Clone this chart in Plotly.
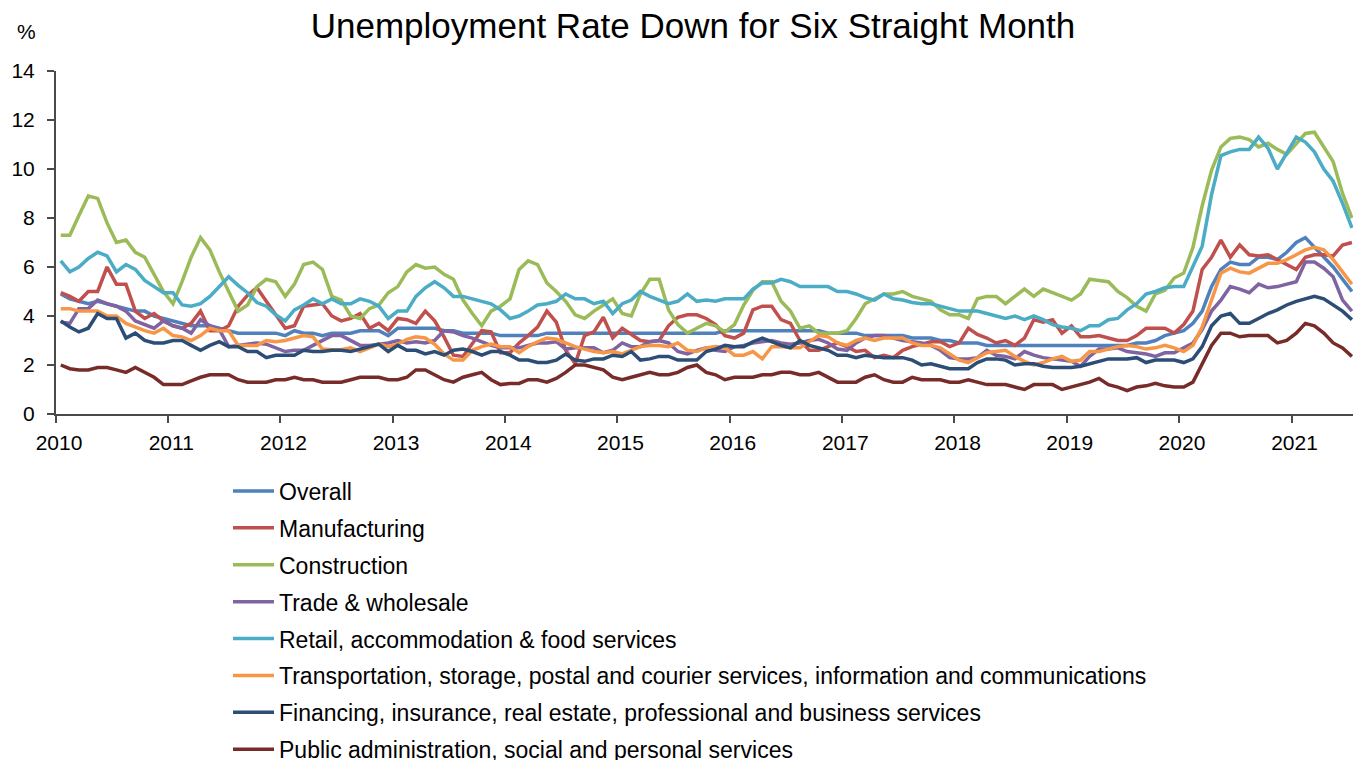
import pandas as pd
import plotly.graph_objects as go

# Monthly observations, Jan 2010 - Jul 2021 (%)
months = pd.date_range("2010-01-01", "2021-07-01", freq="MS")
tick_years = list(range(2010, 2022))

overall = [
    4.9, 4.7, 4.6, 4.5, 4.6, 4.5, 4.4, 4.3, 4.2, 4.2, 4.0, 3.9,
    3.8, 3.7, 3.6, 3.6, 3.6, 3.5, 3.4, 3.3, 3.3, 3.3, 3.3, 3.3,
    3.2, 3.4, 3.3, 3.3, 3.2, 3.3, 3.3, 3.3, 3.4, 3.4, 3.4, 3.2,
    3.5, 3.5, 3.5, 3.5, 3.5, 3.4, 3.4, 3.3, 3.3, 3.3, 3.3, 3.2,
    3.2, 3.2, 3.2, 3.2, 3.3, 3.3, 3.3, 3.3, 3.3, 3.3, 3.3, 3.3,
    3.3, 3.3, 3.3, 3.3, 3.3, 3.3, 3.3, 3.3, 3.3, 3.3, 3.3, 3.4,
    3.4, 3.4, 3.4, 3.4, 3.4, 3.4, 3.4, 3.4, 3.4, 3.4, 3.3, 3.3,
    3.3, 3.3, 3.2, 3.2, 3.2, 3.2, 3.2, 3.1, 3.1, 3.1, 3.0, 3.0,
    2.9, 2.9, 2.9, 2.8, 2.8, 2.8, 2.8, 2.8, 2.8, 2.8, 2.8, 2.8,
    2.8, 2.8, 2.8, 2.8, 2.8, 2.8, 2.8, 2.9, 2.9, 3.0, 3.2, 3.3,
    3.4, 3.7, 4.2, 5.2, 5.9, 6.2, 6.1, 6.1, 6.4, 6.4, 6.3, 6.6,
    7.0, 7.2, 6.8, 6.4, 6.0, 5.5, 5.0,
]

manufacturing = [
    4.95, 4.8, 4.6, 5.0, 5.0, 6.0, 5.3, 5.3, 4.2, 3.9, 4.1, 3.8,
    3.6, 3.5, 3.7, 4.2, 3.4, 3.4, 3.6, 4.4, 4.85, 5.15, 4.6, 4.05,
    3.5, 3.6, 4.4, 4.45, 4.5, 4.0, 3.8, 3.9, 4.1, 3.5, 3.7, 3.4,
    3.9, 3.85, 3.7, 4.2, 3.8, 3.15, 2.4, 2.35, 2.9, 3.4, 3.35, 2.5,
    2.5, 2.9, 3.2, 3.55, 4.2, 3.75, 2.6, 2.05, 3.2, 3.35, 3.95, 3.1,
    3.5, 3.25, 3.0, 2.95, 3.0, 3.6, 3.95, 4.05, 4.05, 3.9, 3.65, 3.2,
    3.1, 3.3, 4.25, 4.4, 4.4, 3.85, 3.7, 3.0, 2.6, 2.6, 2.75, 2.9,
    2.75, 2.55, 2.6, 2.3, 2.4, 2.3, 2.6, 2.75, 2.85, 2.95, 2.95, 2.75,
    2.9, 3.5, 3.25, 3.1, 2.9, 3.0, 2.8, 3.1, 3.85, 3.75, 3.85, 3.3,
    3.6, 3.15, 3.15, 3.2, 3.1, 3.0, 3.0, 3.2, 3.5, 3.5, 3.5, 3.3,
    3.65, 4.2, 5.9, 6.4, 7.1, 6.4, 6.9, 6.5, 6.45, 6.5, 6.3, 6.1,
    5.9, 6.4, 6.5, 6.5, 6.45, 6.9, 7.0,
]

construction = [
    7.3, 7.3, 8.1, 8.9, 8.8, 7.8, 7.0, 7.1, 6.6, 6.4, 5.7, 5.0,
    4.5, 5.4, 6.4, 7.2, 6.7, 5.8, 5.0, 4.2, 4.45, 5.2, 5.5, 5.4,
    4.8, 5.3, 6.1, 6.2, 5.9, 4.8, 4.65, 4.0, 3.9, 4.3, 4.45, 4.95,
    5.2, 5.8, 6.1, 5.95, 6.0, 5.7, 5.5, 4.65, 4.1, 3.6, 4.2, 4.4,
    4.7, 5.9, 6.25, 6.1, 5.35, 5.0, 4.6, 4.05, 3.9, 4.2, 4.45, 4.7,
    4.1, 4.0, 4.9, 5.5, 5.5, 4.25, 3.65, 3.3, 3.5, 3.7, 3.6, 3.35,
    3.65, 4.45, 5.05, 5.4, 5.4, 4.6, 4.2, 3.5, 3.6, 3.3, 3.3, 3.3,
    3.4, 3.9, 4.5, 4.7, 4.9, 4.9, 5.0, 4.8, 4.7, 4.6, 4.25, 4.05,
    4.05, 3.9, 4.7, 4.8, 4.8, 4.5, 4.8, 5.1, 4.8, 5.1, 4.95, 4.8,
    4.65, 4.9, 5.5, 5.45, 5.4, 5.0, 4.75, 4.4, 4.2, 4.9, 5.05, 5.55,
    5.75, 6.8, 8.5, 9.95, 10.9, 11.25, 11.3, 11.2, 10.9, 11.05, 10.8, 10.6,
    11.05, 11.45, 11.5, 10.9, 10.3, 9.0, 8.0,
]

trade_wholesale = [
    3.75, 3.7, 4.3, 4.3, 4.65, 4.5, 4.4, 4.2, 3.8, 3.65, 3.5, 3.8,
    3.6, 3.5, 3.3, 3.85, 3.6, 3.45, 2.75, 2.8, 2.85, 2.9, 2.85, 2.7,
    2.55, 2.6, 2.6, 2.8, 3.0, 3.2, 3.2, 3.0, 2.8, 2.8, 2.85, 2.9,
    3.0, 2.9, 2.95, 2.9, 3.0, 3.4, 3.35, 3.2, 3.1, 2.95, 2.8, 2.7,
    2.7, 2.7, 2.8, 2.9, 2.9, 2.95, 2.65, 2.7, 2.7, 2.7, 2.5, 2.6,
    2.9, 2.75, 2.75, 2.95, 3.0, 2.9, 2.55, 2.45, 2.6, 2.7, 2.6, 2.55,
    2.75, 2.8, 2.9, 2.95, 3.0, 2.9, 2.85, 2.9, 3.0, 3.05, 2.9, 2.65,
    2.6, 2.9, 3.1, 3.2, 3.2, 3.1, 3.0, 2.95, 2.9, 2.8, 2.6, 2.3,
    2.25, 2.25, 2.3, 2.6, 2.4, 2.35, 2.25, 2.55, 2.4, 2.3, 2.25, 2.2,
    2.15, 1.95, 2.35, 2.65, 2.65, 2.7, 2.55, 2.5, 2.45, 2.35, 2.5, 2.5,
    2.7, 2.9, 3.45, 4.2, 4.65, 5.2, 5.1, 4.95, 5.3, 5.15, 5.2, 5.3,
    5.4, 6.2, 6.2, 5.95, 5.6, 4.65, 4.2,
]

retail_food = [
    6.25, 5.8, 6.0, 6.35, 6.6, 6.45, 5.8, 6.1, 5.9, 5.45, 5.2, 4.95,
    4.95, 4.45, 4.4, 4.5, 4.8, 5.2, 5.6, 5.25, 4.95, 4.55, 4.4, 4.05,
    3.8, 4.25, 4.45, 4.7, 4.5, 4.7, 4.5, 4.5, 4.7, 4.6, 4.4, 3.9,
    4.2, 4.2, 4.8, 5.15, 5.4, 5.15, 4.8, 4.8, 4.7, 4.6, 4.5, 4.25,
    3.9, 4.0, 4.2, 4.45, 4.5, 4.6, 4.9, 4.7, 4.7, 4.5, 4.6, 4.1,
    4.5, 4.65, 5.0, 4.8, 4.65, 4.5, 4.6, 4.9, 4.6, 4.65, 4.6, 4.7,
    4.7, 4.7, 5.1, 5.35, 5.35, 5.5, 5.4, 5.2, 5.2, 5.2, 5.2, 5.0,
    5.0, 4.9, 4.75, 4.65, 4.9, 4.7, 4.65, 4.55, 4.5, 4.5, 4.4, 4.3,
    4.2, 4.2, 4.2, 4.1, 4.0, 3.9, 4.0, 3.85, 4.0, 3.85, 3.65, 3.55,
    3.5, 3.4, 3.6, 3.6, 3.85, 3.9, 4.25, 4.5, 4.9, 5.0, 5.15, 5.2,
    5.2, 6.0, 6.85, 8.95, 10.55, 10.7, 10.8, 10.8, 11.3, 10.85, 10.0, 10.65,
    11.3, 11.1, 10.7, 10.0, 9.5, 8.6, 7.6,
]

transport_comm = [
    4.3, 4.3, 4.2, 4.2, 4.2, 4.0, 4.0, 3.7, 3.55, 3.4, 3.3, 3.5,
    3.2, 3.15, 3.0, 3.2, 3.5, 3.4, 3.4, 2.8, 2.8, 2.8, 3.0, 2.95,
    3.0, 3.1, 3.2, 3.15, 2.65, 2.62, 2.62, 2.7, 2.55, 2.7, 2.85, 2.75,
    2.85, 3.05, 3.15, 3.1, 2.85, 2.45, 2.2, 2.2, 2.6, 2.75, 2.85, 2.75,
    2.75, 2.5, 2.75, 2.95, 3.1, 3.05, 2.9, 2.75, 2.65, 2.55, 2.5, 2.55,
    2.45, 2.6, 2.75, 2.8, 2.8, 2.75, 2.9, 2.6, 2.55, 2.7, 2.75, 2.7,
    2.4, 2.4, 2.55, 2.25, 2.75, 2.75, 2.7, 2.7, 2.95, 3.2, 3.15, 2.9,
    2.8, 3.0, 3.1, 3.0, 3.1, 3.1, 3.1, 2.9, 2.8, 2.8, 2.7, 2.45,
    2.2, 2.1, 2.3, 2.5, 2.55, 2.6, 2.35, 2.15, 2.0, 2.1, 2.25, 2.35,
    2.15, 2.2, 2.55, 2.55, 2.65, 2.75, 2.8, 2.75, 2.65, 2.7, 2.8, 2.7,
    2.55, 2.8, 3.55, 4.65, 5.75, 5.95, 5.8, 5.75, 5.95, 6.15, 6.15, 6.3,
    6.5, 6.7, 6.8, 6.7, 6.3, 5.8, 5.3,
]

finance_business = [
    3.8, 3.55, 3.35, 3.5, 4.1, 3.9, 3.9, 3.1, 3.3, 3.0, 2.9, 2.9,
    3.0, 3.0, 2.8, 2.6, 2.8, 2.95, 2.75, 2.75, 2.55, 2.55, 2.3, 2.4,
    2.4, 2.4, 2.6, 2.55, 2.55, 2.6, 2.6, 2.55, 2.65, 2.75, 2.85, 2.55,
    2.8, 2.6, 2.6, 2.45, 2.55, 2.4, 2.6, 2.65, 2.55, 2.4, 2.55, 2.55,
    2.4, 2.2, 2.2, 2.1, 2.1, 2.2, 2.45, 2.2, 2.15, 2.25, 2.25, 2.4,
    2.35, 2.55, 2.2, 2.25, 2.35, 2.35, 2.2, 2.2, 2.2, 2.55, 2.65, 2.8,
    2.75, 2.75, 2.95, 3.1, 2.95, 2.8, 2.7, 3.0, 2.8, 2.7, 2.6, 2.4,
    2.4, 2.3, 2.4, 2.35, 2.3, 2.3, 2.3, 2.2, 2.0, 2.05, 1.95, 1.85,
    1.85, 1.85, 2.1, 2.25, 2.25, 2.2, 2.0, 2.05, 2.05, 1.95, 1.9, 1.9,
    1.9, 1.95, 2.05, 2.15, 2.25, 2.25, 2.25, 2.3, 2.1, 2.2, 2.2, 2.2,
    2.1, 2.25, 2.75, 3.6, 4.0, 4.1, 3.7, 3.7, 3.9, 4.1, 4.25, 4.45,
    4.6, 4.7, 4.8, 4.7, 4.45, 4.2, 3.85,
]

public_social = [
    2.0, 1.85, 1.8, 1.8, 1.9, 1.9, 1.8, 1.7, 1.9, 1.7, 1.5, 1.2,
    1.2, 1.2, 1.35, 1.5, 1.6, 1.6, 1.6, 1.4, 1.3, 1.3, 1.3, 1.4,
    1.4, 1.5, 1.4, 1.4, 1.3, 1.3, 1.3, 1.4, 1.5, 1.5, 1.5, 1.4,
    1.4, 1.5, 1.8, 1.8, 1.6, 1.4, 1.3, 1.5, 1.6, 1.7, 1.4, 1.2,
    1.25, 1.25, 1.4, 1.4, 1.3, 1.45, 1.7, 2.0, 2.0, 1.9, 1.8, 1.5,
    1.4, 1.5, 1.6, 1.7, 1.6, 1.6, 1.7, 1.9, 2.0, 1.7, 1.6, 1.4,
    1.5, 1.5, 1.5, 1.6, 1.6, 1.7, 1.7, 1.6, 1.6, 1.7, 1.5, 1.3,
    1.3, 1.3, 1.5, 1.6, 1.4, 1.3, 1.3, 1.5, 1.4, 1.4, 1.4, 1.3,
    1.3, 1.4, 1.3, 1.2, 1.2, 1.2, 1.1, 1.0, 1.2, 1.2, 1.2, 1.0,
    1.1, 1.2, 1.3, 1.45, 1.2, 1.1, 0.95, 1.1, 1.15, 1.25, 1.15, 1.1,
    1.1, 1.3, 2.05, 2.8, 3.3, 3.3, 3.15, 3.2, 3.2, 3.2, 2.9, 3.0,
    3.3, 3.7, 3.6, 3.3, 2.9, 2.7, 2.35,
]

series_names = [
    "Overall",
    "Manufacturing",
    "Construction",
    "Trade & wholesale",
    "Retail, accommodation & food services",
    "Transportation, storage, postal and courier services, information and communications",
    "Financing, insurance, real estate, professional and business services",
    "Public administration, social and personal services",
]
series_values = [overall, manufacturing, construction, trade_wholesale,
                 retail_food, transport_comm, finance_business, public_social]
series_colors = ["#4F81BD", "#C0504D", "#9BBB59", "#8064A2",
                 "#4BACC6", "#F79646", "#2C4D75", "#772C2A"]

FONT = "Liberation Sans, Arial, sans-serif"
AXIS = "#4a4a4a"
W, H = 1353, 760
L, T, B = 56, 71, 346
plot_w, plot_h = W - L, H - T - B

fig = go.Figure()
for name, vals, color in zip(series_names, series_values, series_colors):
    fig.add_trace(go.Scatter(
        x=months, y=vals, name=name, mode="lines",
        xperiod="M1", xperiodalignment="middle",
        line=dict(color=color, width=3.5),
        legendgroup=name,
        hoverinfo="skip",
    ))

fig.update_layout(
    width=W, height=H,
    margin=dict(l=L, r=0, t=T, b=B, autoexpand=False),
    paper_bgcolor="white", plot_bgcolor="white",
    font=dict(family=FONT, color="black"),
    title=dict(
        text="Unemployment Rate Down for Six Straight Month",
        font=dict(family=FONT, size=35, color="black"),
        xref="container", x=693 / W, xanchor="center",
        yref="container", y=1 - 25.5 / H, yanchor="middle",
    ),
    xaxis=dict(
        type="date",
        range=["2010-01-01", "2021-07-20"],
        tickvals=[f"{y}-01-01" for y in tick_years],
        ticktext=[str(y) for y in tick_years],
        ticks="outside", ticklen=7, tickwidth=1.5, tickcolor=AXIS,
        showline=True, linecolor=AXIS, linewidth=2,
        showgrid=False, zeroline=False,
        tickfont=dict(family=FONT, size=21, color="black"),
        ticklabelstandoff=2, ticklabelshift=3,
    ),
    yaxis=dict(
        range=[0, 14], tick0=0, dtick=2,
        ticks="outside", ticklen=7, tickwidth=1.5, tickcolor=AXIS,
        showline=True, linecolor=AXIS, linewidth=2,
        showgrid=False, zeroline=False,
        tickfont=dict(family=FONT, size=21, color="black"),
        ticklabelstandoff=8,
    ),
    legend=dict(
        orientation="v",
        x=(228 - L) / plot_w, xanchor="left",
        y=(414 - 469.5) / plot_h, yanchor="top",
        font=dict(family=FONT, size=23, color="black"),
        bgcolor="rgba(0,0,0,0)", borderwidth=0,
        traceorder="grouped", tracegroupgap=4,
        itemwidth=41,
    ),
    annotations=[dict(
        text="%", xref="paper", yref="paper",
        x=(26 - L) / plot_w, y=(414 - 32) / plot_h,
        xanchor="center", yanchor="middle", showarrow=False,
        font=dict(family=FONT, size=21, color="black"),
    )],
)

fig.write_html("out.html")
